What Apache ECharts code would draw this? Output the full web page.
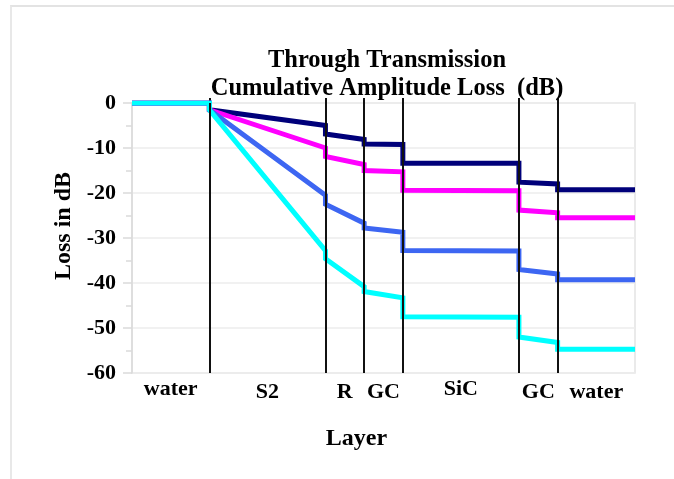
<!DOCTYPE html>
<html>
<head>
<meta charset="utf-8">
<script src="https://cdn.jsdelivr.net/npm/echarts@6/dist/echarts.min.js"></script>
<style>
html,body{margin:0;padding:0;background:#fff;}
#wrap{position:relative;width:674px;height:479px;overflow:hidden;}
#frame{position:absolute;left:10px;top:5px;right:-2px;bottom:-2px;border-top:2px solid #e3e3e3;border-left:2px solid #e8e8e8;}
#chart{position:absolute;left:0;top:0;width:674px;height:479px;}
</style>
</head>
<body>
<div id="wrap"><div id="frame"></div><div id="chart"></div></div>
<script>
// Layer position (interface coordinates) for every point of each curve
const xLayer   = [0, 2, 2, 5, 5, 6, 6, 7, 7, 10, 10, 11, 11, 13];
const navyLoss    = [0, 0, -1.5, -5.0, -6.9, -8.1, -9.1, -9.2, -13.4, -13.4, -17.6, -18.0, -19.3, -19.3];
const magentaLoss = [0, 0, -1.5, -10.0, -11.9, -13.7, -15.0, -15.3, -19.4, -19.5, -23.8, -24.4, -25.5, -25.5];
const blueLoss    = [0, 0, -1.5, -20.5, -22.5, -26.7, -27.8, -28.7, -32.8, -32.9, -37.0, -38.0, -39.3, -39.3];
const cyanLoss    = [0, 0, -1.5, -32.8, -34.6, -40.8, -41.9, -43.3, -47.5, -47.6, -52.0, -53.2, -54.7, -54.7];

const boundaries  = [2, 5, 6, 7, 10, 11];
const layerPos    = [1, 3.5, 5.5, 6.5, 8.5, 10.5, 12];
const layerNames  = ['water', 'S2', 'R', 'GC', 'SiC', 'GC', 'water'];
const layerRaised = [true, false, false, false, true, false, false];

const FONT = 'Liberation Serif';

function pts(arr){ return xLayer.map((x,i)=>[x, arr[i]]); }

function mkLine(name, color, arr){
  return {
    name, type:'line', data: pts(arr), symbol:'none', xAxisIndex:0,
    lineStyle:{color, width:5, cap:'butt', join:'miter'},
    itemStyle:{color}, animation:false
  };
}

const chart = echarts.init(document.getElementById('chart'), null, {renderer:'canvas'});
chart.setOption({
  animation:false,
  backgroundColor:'transparent',
  title:{
    text:'Through Transmission\nCumulative Amplitude Loss  (dB)',
    left:382, top:42, textAlign:'center',
    textStyle:{fontFamily:FONT, fontWeight:'bold', fontSize:24.5, lineHeight:28, color:'#000'}
  },
  grid:{left:132, right:39, top:103, bottom:106, show:true, borderColor:'#e4e4e4', borderWidth:1.5, containLabel:false},
  xAxis:[{
    type:'value', min:0, max:13, position:'bottom',
    axisLine:{show:false},
    splitLine:{show:false},
    axisTick:{show:true, customValues:boundaries, length:7, inside:false, lineStyle:{color:'#111', width:2}},
    axisLabel:{
      show:true, customValues:layerPos, margin:5,
      formatter:function(v){
        const i = layerPos.indexOf(v);
        if(i<0) return '';
        return (layerRaised[i] ? '{hi|' : '{lo|') + layerNames[i] + '}';
      },
      rich:{
        hi:{fontFamily:FONT, fontWeight:'bold', fontSize:22, color:'#000', lineHeight:22, padding:[0,0,0,0]},
        lo:{fontFamily:FONT, fontWeight:'bold', fontSize:22, color:'#000', lineHeight:22, padding:[7,0,0,0]}
      }
    },
    name:'Layer', nameLocation:'middle', nameGap:54,
    nameTextStyle:{fontFamily:FONT, fontWeight:'bold', fontSize:24, color:'#000', padding:[0,54,0,0]}
  },{
    type:'value', min:0, max:13, position:'top',
    axisLine:{show:false}, splitLine:{show:false}, axisLabel:{show:false},
    axisTick:{show:true, customValues:boundaries, length:5, inside:false, lineStyle:{color:'#111', width:2}}
  }],
  yAxis:{
    type:'value', min:-60, max:0, interval:10,
    axisLine:{show:true, lineStyle:{color:'#dadada', width:1.5}},
    axisTick:{show:true, length:9, lineStyle:{color:'#dadada', width:1.5}},
    minorTick:{show:true, splitNumber:2, length:6, lineStyle:{color:'#dadada', width:1.5}},
    splitLine:{show:true, lineStyle:{color:'#ededed', width:1.5}},
    axisLabel:{fontFamily:FONT, fontWeight:'bold', fontSize:22, color:'#000', margin:16, padding:[10,0,0,0]},
    name:'Loss in dB', nameLocation:'middle', nameGap:55, nameRotate:90,
    nameTextStyle:{fontFamily:FONT, fontWeight:'bold', fontSize:24, color:'#000', padding:[0,0,0,24]}
  },
  series:[
    mkLine('navy', '#00007a', navyLoss),
    mkLine('magenta', '#ff00ff', magentaLoss),
    mkLine('blue', '#3d66f2', blueLoss),
    mkLine('cyan', '#00ffff', cyanLoss),
    {
      name:'interfaces', type:'line', data:[], xAxisIndex:0, z:5,
      markLine:{
        silent:true, symbol:['none','none'], animation:false,
        label:{show:false},
        lineStyle:{color:'#111', width:2, type:'solid'},
        data: boundaries.map(v=>({xAxis:v}))
      }
    }
  ]
});
</script>
</body>
</html>
